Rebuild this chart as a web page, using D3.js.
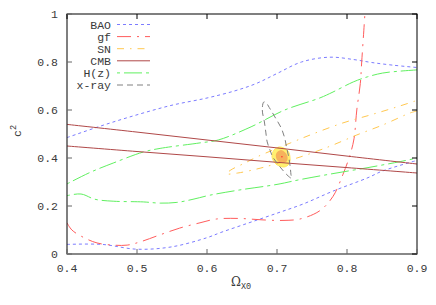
<!DOCTYPE html>
<html><head><meta charset="utf-8">
<script src="https://cdn.jsdelivr.net/npm/d3@7"></script>
<style>body{margin:0;background:#fff}svg text{font-family:"Liberation Mono","DejaVu Sans Mono",monospace;}</style>
</head><body><svg id="c" width="436" height="305"></svg>
<script>
// ---- data ----
const xTicks = [0.4, 0.5, 0.6, 0.7, 0.8, 0.9];
const yTicks = [0, 0.2, 0.4, 0.6, 0.8, 1];
const xTickLabels = ["0.4","0.5","0.6","0.7","0.8","0.9"];
const yTickLabels = ["0","0.2","0.4","0.6","0.8","1"];
const legendNames = ["BAO","gf","SN","CMB","H(z)","x-ray"];

const baoUpper = [[0.4,0.485],[0.45,0.535],[0.5,0.58],[0.55,0.62],[0.6,0.65],[0.64,0.68],[0.67,0.71],[0.70,0.752],[0.735,0.80],[0.775,0.82],[0.81,0.81],[0.835,0.798],[0.865,0.787],[0.9,0.777]];
const baoLower = [[0.4,0.04],[0.45,0.04],[0.5,0.02],[0.55,0.03],[0.6,0.068],[0.62,0.09],[0.66,0.13],[0.70,0.17],[0.737,0.208],[0.78,0.262],[0.83,0.318],[0.85,0.345],[0.9,0.39]];
const gfCurve = [[0.4,0.13],[0.407,0.10],[0.423,0.07],[0.443,0.046],[0.466,0.037],[0.486,0.037],[0.504,0.05],[0.533,0.08],[0.561,0.108],[0.59,0.13],[0.614,0.146],[0.647,0.148],[0.68,0.142],[0.71,0.14],[0.733,0.146],[0.761,0.18],[0.78,0.24],[0.794,0.33],[0.804,0.41],[0.81,0.48],[0.814,0.6],[0.819,0.71],[0.821,0.80],[0.824,0.93],[0.826,1.02]];
const snCurve = [[0.9,0.596],[0.89,0.5875],[0.851,0.5375],[0.814,0.496],[0.797,0.475],[0.773,0.446],[0.733,0.404],[0.693,0.371],[0.671,0.354],[0.644,0.3375],[0.628,0.334],[0.634,0.35],[0.654,0.379],[0.674,0.408],[0.719,0.4625],[0.751,0.50],[0.794,0.546],[0.833,0.579],[0.871,0.6125],[0.9,0.64]];
const cmbUpper = [[0.4,0.54],[0.5,0.508],[0.6,0.475],[0.7,0.442],[0.8,0.408],[0.9,0.375]];
const cmbLower = [[0.4,0.45],[0.5,0.427],[0.6,0.405],[0.7,0.382],[0.8,0.36],[0.9,0.3375]];
const hzUpper = [[0.4,0.292],[0.433,0.34],[0.466,0.379],[0.509,0.425],[0.533,0.44],[0.59,0.463],[0.616,0.475],[0.663,0.53],[0.711,0.60],[0.761,0.65],[0.78,0.675],[0.809,0.717],[0.829,0.738],[0.851,0.754],[0.876,0.762],[0.9,0.767]];
const hzLower = [[0.4,0.243],[0.42,0.25],[0.44,0.228],[0.466,0.22],[0.509,0.217],[0.533,0.212],[0.557,0.215],[0.58,0.228],[0.604,0.245],[0.647,0.267],[0.70,0.29],[0.733,0.31],[0.78,0.335],[0.83,0.36],[0.876,0.385],[0.9,0.40]];
const xray = [[0.681,0.633],[0.679,0.60],[0.682,0.55],[0.684,0.508],[0.686,0.467],[0.690,0.433],[0.694,0.404],[0.700,0.379],[0.708,0.35],[0.716,0.325],[0.721,0.315],[0.720,0.33],[0.719,0.36],[0.717,0.40],[0.714,0.44],[0.711,0.483],[0.706,0.525],[0.697,0.571],[0.689,0.61],[0.684,0.632]];
const jointOuter = [[0.704,0.446],[0.7157,0.429],[0.7186,0.40],[0.7171,0.375],[0.71,0.3625],[0.6986,0.375],[0.6929,0.404],[0.6957,0.433]];
const jointInner = [[0.7057,0.433],[0.7143,0.4125],[0.7143,0.3875],[0.7071,0.379],[0.70,0.392],[0.6986,0.4167]];
const bestFit = [0.707, 0.405];

// ---- styles ----
const styles = {
  "BAO":  {color:"#7c7cff", dash:"3,3"},
  "gf":   {color:"#ff5c5c", dash:"14,6,2,6"},
  "SN":   {color:"#ffc850", dash:"7,6,1.5,6"},
  "CMB":  {color:"#b04848", dash:null},
  "H(z)": {color:"#60f060", dash:"3,4,18,4"},
  "x-ray":{color:"#808080", dash:"6,4"}
};

const svg = d3.select("#c");
const L=67, R=417, T=14, B=254;
const x = d3.scaleLinear().domain([0.4,0.9]).range([L,R]);
const y = d3.scaleLinear().domain([0,1]).range([B,T]);

svg.append("defs").append("clipPath").attr("id","clip")
  .append("rect").attr("x",L).attr("y",T).attr("width",R-L).attr("height",B-T);

const g = svg.append("g").attr("clip-path","url(#clip)");
const line = d3.line().x(d=>x(d[0])).y(d=>y(d[1])).curve(d3.curveCatmullRom.alpha(0.5));
const closed = d3.line().x(d=>x(d[0])).y(d=>y(d[1])).curve(d3.curveCatmullRomClosed.alpha(0.5));

// joint confidence region
g.append("path").attr("d",closed(jointOuter)).attr("fill","#fff070").attr("stroke","#ffe860").attr("stroke-width",1);
g.append("path").attr("d",closed(jointInner)).attr("fill","#f6b25c").attr("stroke","none");
g.append("circle").attr("cx",x(bestFit[0])).attr("cy",y(bestFit[1])).attr("r",0.8).attr("fill","#ff3030");

function draw(data, name, isClosed){
  const s = styles[name];
  g.append("path").attr("d", isClosed ? closed(data) : line(data))
    .attr("fill","none").attr("stroke",s.color).attr("stroke-width",1)
    .attr("stroke-dasharray", s.dash);
}
draw(baoUpper,"BAO"); draw(baoLower,"BAO");
draw(gfCurve,"gf");
draw(snCurve,"SN");
draw(hzUpper,"H(z)"); draw(hzLower,"H(z)");
draw(cmbUpper,"CMB"); draw(cmbLower,"CMB");
draw(xray,"x-ray",true);

// frame
svg.append("rect").attr("x",L).attr("y",T).attr("width",R-L).attr("height",B-T)
  .attr("fill","none").attr("stroke","#000").attr("stroke-width",1);
svg.append("line").attr("x1",L).attr("x2",R).attr("y1",B).attr("y2",B).attr("stroke","#888").attr("stroke-width",2);

const txt = "#3a3a3a";
// ticks
xTicks.forEach((t,i)=>{
  svg.append("line").attr("x1",x(t)).attr("x2",x(t)).attr("y1",B).attr("y2",B-5).attr("stroke","#666");
  svg.append("line").attr("x1",x(t)).attr("x2",x(t)).attr("y1",T).attr("y2",T+5).attr("stroke","#000");
  svg.append("text").attr("x",x(t)).attr("y",B+18).attr("text-anchor","middle")
    .attr("font-size","11.5px").attr("fill",txt).text(xTickLabels[i]);
});
yTicks.forEach((t,i)=>{
  svg.append("line").attr("x1",L).attr("x2",L+5).attr("y1",y(t)).attr("y2",y(t)).attr("stroke","#666");
  svg.append("line").attr("x1",R).attr("x2",R-5).attr("y1",y(t)).attr("y2",y(t)).attr("stroke","#000");
  svg.append("text").attr("x",58).attr("y",y(t)+4).attr("text-anchor","end")
    .attr("font-size","11.5px").attr("fill",txt).text(yTickLabels[i]);
});

// axis labels
const yl = svg.append("text").attr("transform","translate(21,137) rotate(-90)")
  .attr("font-size","11.5px").attr("fill",txt);
yl.append("tspan").text("c");
yl.append("tspan").attr("dy",-5).attr("font-size","8.5px").text("2");

const xl = svg.append("text").attr("x",231).attr("y",286).attr("font-size","12px").attr("fill",txt);
xl.append("tspan").attr("font-family","DejaVu Serif, serif").text("Ω");
xl.append("tspan").attr("dy",3).attr("font-size","8.5px").text("X0");

// legend
legendNames.forEach((n,i)=>{
  const ly = 24.5 + i*12.1;
  svg.append("text").attr("x",111).attr("y",ly+4).attr("text-anchor","end")
    .attr("font-size","11.5px").attr("fill",txt).text(n);
  const s = styles[n];
  svg.append("line").attr("x1",117).attr("x2",150).attr("y1",ly).attr("y2",ly)
    .attr("stroke",s.color).attr("stroke-width",1).attr("stroke-dasharray",s.dash);
});
</script></body></html>
